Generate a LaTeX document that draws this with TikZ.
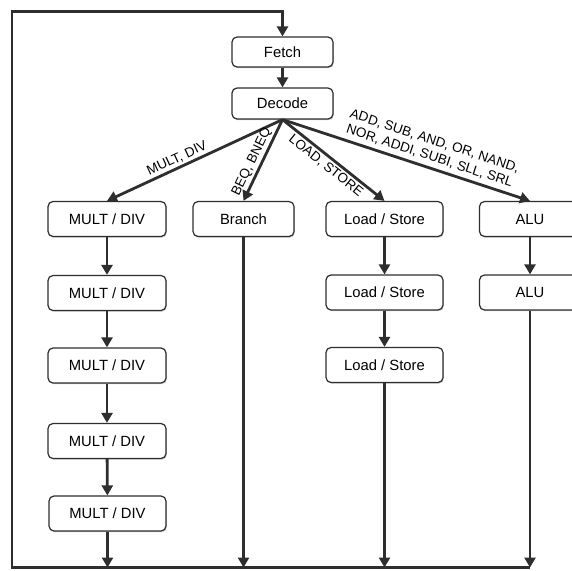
\documentclass[tikz,border=0pt]{standalone}
\usepackage{fontspec}
\setmainfont{Liberation Sans}
\usetikzlibrary{arrows.meta,shadows}
\definecolor{ink}{HTML}{2E2E2E}
\begin{document}
\begin{tikzpicture}[x=1pt,y=-1pt,
  box/.style={draw=ink, line width=1.2pt, rounded corners=5pt, fill=white,
    minimum height=35pt, inner sep=0pt, font=\fontsize{14.8}{17}\selectfont,
    drop shadow={shadow xshift=0.8pt, shadow yshift=-1.2pt, opacity=0.3, fill=black!70}},
  conn/.style={draw=ink, line width=2.8pt},
  arr/.style={conn, -{Triangle[width=11pt,length=10pt]}},
  lab/.style={font=\fontsize{13.5}{16}\selectfont, sloped, inner sep=2pt}
]
\useasboundingbox (0,0) rectangle (572,570);
\clip (0,0) rectangle (572,570);

\node[box, minimum width=101pt, minimum height=30pt] (fetch) at (282.5,52) {Fetch};
\node[box, minimum width=101pt, minimum height=31pt] (decode) at (282.5,103.5) {Decode};

\node[box, minimum width=118pt] (m1) at (107,219) {MULT / DIV};
\node[box, minimum width=118pt] (m2) at (107,293) {MULT / DIV};
\node[box, minimum width=118pt] (m3) at (107,365.5) {MULT / DIV};
\node[box, minimum width=118pt] (m4) at (107,441) {MULT / DIV};
\node[box, minimum width=117pt] (m5) at (107.5,513.5) {MULT / DIV};

\node[box, minimum width=101pt] (bra) at (243.5,219) {Branch};

\node[box, minimum width=117pt] (ls1) at (384.5,219) {Load / Store};
\node[box, minimum width=117pt] (ls2) at (384.5,292.5) {Load / Store};
\node[box, minimum width=117pt] (ls3) at (384.5,365) {Load / Store};

\node[box, minimum width=101pt] (alu1) at (530,219) {ALU};
\node[box, minimum width=101pt] (alu2) at (530,292.5) {ALU};

\coordinate (tl) at (12,11.5);
\coordinate (bl) at (12,567.5);

% loop back to fetch
\draw[arr] (alu2.south |- bl) -- (bl) -- (tl) -| (fetch.north);
\draw[arr] (fetch) -- (decode);

% fan-out from decode
\draw[arr] (decode.south) -- node[lab, above, pos=0.58] {MULT, DIV} (m1.north);
\draw[arr] (decode.south) -- node[lab, above, pos=0.57] {BEQ, BNEQ} (bra.north);
\draw[arr] (decode.south) -- node[lab, below, pos=0.48] {LOAD, STORE} (ls1.north);
\draw[arr] (decode.south) -- node[lab, above, pos=0.58, align=center, inner sep=4pt]
  {ADD, SUB, AND, OR, NAND,\\NOR, ADDI, SUBI, SLL, SRL} (alu1.north);

% columns
\draw[arr] (m1) -- (m2);
\draw[arr] (m2) -- (m3);
\draw[arr] (m3) -- (m4);
\draw[arr] (m4) -- (m5);
\draw[arr] (m5.south) -- (m5.south |- bl);

\draw[arr] (bra.south) -- (bra.south |- bl);

\draw[arr] (ls1) -- (ls2);
\draw[arr] (ls2) -- (ls3);
\draw[arr] (ls3.south) -- (ls3.south |- bl);

\draw[arr] (alu1) -- (alu2);
\draw[arr] (alu2.south) -- (alu2.south |- bl);
\end{tikzpicture}
\end{document}
